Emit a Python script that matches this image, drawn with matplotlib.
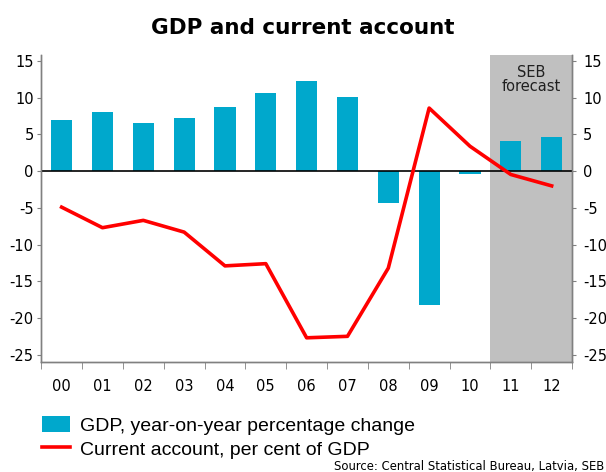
import numpy as np
import matplotlib.pyplot as plt
from matplotlib.patches import Patch
from matplotlib.lines import Line2D

plt.rcParams["axes.unicode_minus"] = False

years = ["00", "01", "02", "03", "04", "05", "06", "07", "08", "09", "10", "11", "12"]
gdp = [7.0, 8.1, 6.6, 7.3, 8.8, 10.7, 12.3, 10.1, -4.3, -18.2, -0.35, 4.1, 4.6]
current_account = [-4.9, -7.7, -6.7, -8.3, -12.9, -12.6, -22.7, -22.5, -13.2, 8.6, 3.4, -0.45, -2.0]
forecast_years = ["11", "12"]
yticks = [-25, -20, -15, -10, -5, 0, 5, 10, 15]

bar_color = "#00A8CC"
line_color = "#FF0000"
spine_color = "#808080"

fig = plt.figure(figsize=(6.06, 4.72), dpi=100)
ax = fig.add_axes([0.068, 0.233, 0.876, 0.650])

x = np.arange(len(years))
# forecast period shading
first = years.index(forecast_years[0])
ax.axvspan(first - 0.5, len(years) - 0.5, color="#C0C0C0", zorder=0, lw=0)
ax.text(first + 0.5, 14.5, "SEB\nforecast", ha="center", va="top",
        fontsize=10.5, linespacing=0.95, color="#202020")

ax.bar(x, gdp, width=0.52, color=bar_color, zorder=2)
ax.axhline(0, color="black", lw=1.2, zorder=3)
ax.plot(x, current_account, color=line_color, lw=2.6, zorder=4)

ax.set_xlim(-0.5, len(years) - 0.5)
ax.set_ylim(-26, 15.8)
ax.set_yticks(yticks)
ax.set_xticks(x)
ax.set_xticklabels(years)
ax.set_xticks(np.arange(-0.5, len(years)), minor=True)
ax.tick_params(axis="x", which="major", length=0, pad=12, labelsize=10.5)
ax.tick_params(axis="x", which="minor", length=5, color=spine_color, direction="out")
ax.tick_params(axis="y", which="major", length=3, color=spine_color, labelsize=10.5, pad=2.5)

# right-hand scale repeats the left one
ax2 = ax.twinx()
ax2.set_ylim(ax.get_ylim())
ax2.set_yticks(yticks)
ax2.tick_params(axis="y", length=3, color=spine_color, labelsize=10.5, pad=5)

for a in (ax, ax2):
    a.spines["top"].set_visible(False)
    for side in ("left", "right", "bottom"):
        a.spines[side].set_color(spine_color)
        a.spines[side].set_linewidth(1.0)

fig.text(0.5, 0.940, "GDP and current account", ha="center", va="center",
         fontsize=15.5, fontweight="bold")

handles = [Patch(facecolor=bar_color, edgecolor="none"),
           Line2D([0], [0], color=line_color, lw=2.6)]
labels = ["GDP, year-on-year percentage change", "Current account, per cent of GDP"]
fig.legend(handles, labels, loc="upper left", bbox_to_anchor=(0.070, 0.118),
           frameon=False, handlelength=1.4, handleheight=0.9, handletextpad=0.55,
           labelspacing=0.25, borderpad=0, borderaxespad=0,
           prop={"family": "Liberation Sans", "size": 14})

fig.text(0.997, 0.012, "Source: Central Statistical Bureau, Latvia, SEB",
         ha="right", va="center", fontsize=8.4)

fig.savefig("out.png", dpi=100)
